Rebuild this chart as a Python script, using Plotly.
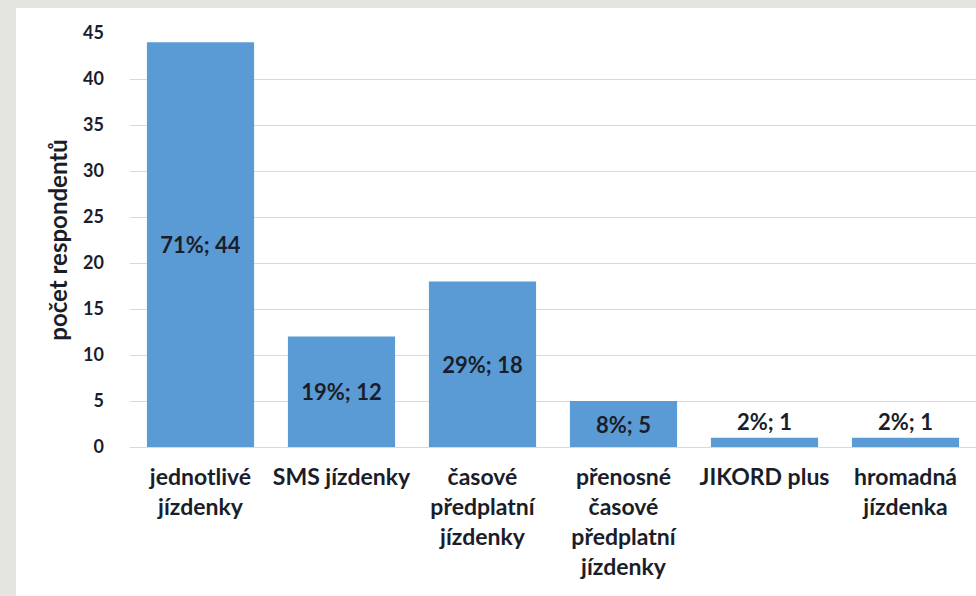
import plotly.graph_objects as go

categories = [
    "jednotlivé<br>jízdenky",
    "SMS jízdenky",
    "časové<br>předplatní<br>jízdenky",
    "přenosné<br>časové<br>předplatní<br>jízdenky",
    "JIKORD plus",
    "hromadná<br>jízdenka",
]
values = [44, 12, 18, 5, 1, 1]
percents = ["71%", "19%", "29%", "8%", "2%", "2%"]
label_positions = ["inside", "inside", "inside", "inside", "outside", "outside"]

labels = [f"{p}; {v}" for p, v in zip(percents, values)]

FONT = "Lato"
TXT = "#1a1e2a"

fig = go.Figure(
    go.Bar(
        x=categories,
        y=values,
        text=labels,
        textposition=label_positions,
        insidetextanchor="middle",
        textangle=0,
        constraintext="none",
        cliponaxis=False,
        hoverinfo="skip",
        marker=dict(color="#5b9bd5", line=dict(width=0)),
        textfont=dict(family=FONT, size=22, color=TXT, weight="bold"),
        insidetextfont=dict(family=FONT, size=22, color=TXT, weight="bold"),
        outsidetextfont=dict(family=FONT, size=22, color=TXT, weight="bold"),
    )
)

fig.update_layout(
    width=976,
    height=596,
    margin=dict(l=130, r=0, t=33, b=149),
    paper_bgcolor="#e4e4e0",
    plot_bgcolor="white",
    bargap=0.24,
    showlegend=False,
    font=dict(family=FONT, color=TXT),
    shapes=[
        dict(
            type="rect",
            xref="paper",
            yref="paper",
            x0=-0.1348,
            x1=1.01,
            y0=-0.40,
            y1=1.0604,
            fillcolor="white",
            line=dict(width=0),
            layer="below",
        )
    ],
)

fig.update_yaxes(
    range=[0, 45],
    dtick=5,
    showgrid=True,
    gridcolor="#d9d9d9",
    gridwidth=1,
    zeroline=True,
    zerolinecolor="#d9d9d9",
    zerolinewidth=1,
    showline=False,
    ticks="",
    ticklabelstandoff=25,
    tickfont=dict(family=FONT, size=18, color=TXT, weight="bold"),
    title=dict(
        text="počet respondentů",
        font=dict(family=FONT, size=24, color=TXT, weight="bold"),
        standoff=8,
    ),
)

fig.update_xaxes(
    showgrid=False,
    showline=False,
    ticks="",
    ticklabelstandoff=14,
    tickfont=dict(family=FONT, size=23, color=TXT, weight="bold"),
)

fig.write_html(
    "out.html",
    config={"displayModeBar": False},
    post_script="document.body.style.margin='0';document.body.style.padding='0';",
)
